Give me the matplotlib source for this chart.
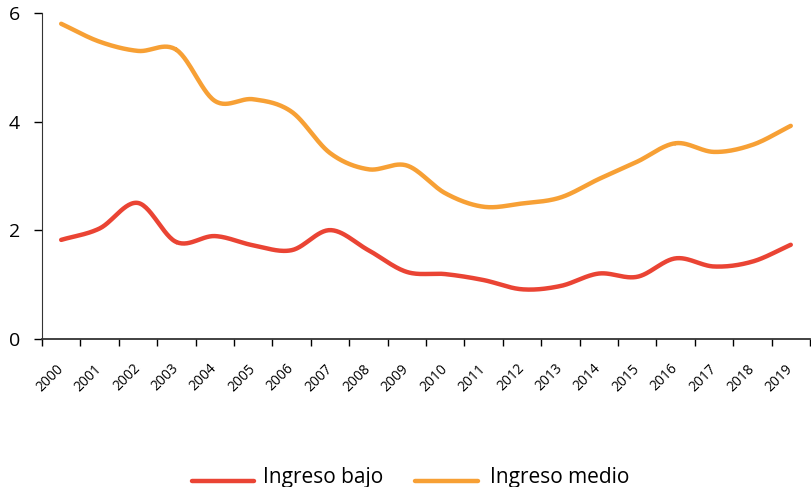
import numpy as np
import matplotlib
matplotlib.use("Agg")
import matplotlib.pyplot as plt
from matplotlib.lines import Line2D

# ------------------------------------------------------------
# Datos
# ------------------------------------------------------------

years = [str(y) for y in range(2000, 2020)]
ingreso_bajo = [1.82, 2.03, 2.50, 1.78, 1.89, 1.72, 1.63, 2.00, 1.63, 1.23,
                1.19, 1.08, 0.91, 0.97, 1.20, 1.14, 1.48, 1.33, 1.42, 1.73]
ingreso_medio = [5.80, 5.47, 5.30, 5.32, 4.38, 4.41, 4.18, 3.42, 3.12, 3.19,
                 2.68, 2.43, 2.49, 2.60, 2.94, 3.26, 3.60, 3.44, 3.57, 3.92]
series_names = ['Ingreso bajo', 'Ingreso medio']

red = '#EA4434'
orange = '#F7A035'

# ------------------------------------------------------------
# Curva suavizada (Catmull-Rom, como las lineas suavizadas de Excel)
# ------------------------------------------------------------

def smooth(x, y, n=30):
  x = np.asarray(x, float); y = np.asarray(y, float)
  px = np.concatenate(([2*x[0]-x[1]], x, [2*x[-1]-x[-2]]))
  py = np.concatenate(([2*y[0]-y[1]], y, [2*y[-1]-y[-2]]))
  xs = []; ys = []
  t = np.linspace(0, 1, n)
  for i in range(1, len(px)-2):
    for p, out in ((px, xs), (py, ys)):
      p0, p1, p2, p3 = p[i-1], p[i], p[i+1], p[i+2]
      out.append(0.5*((2*p1) + (-p0+p2)*t + (2*p0-5*p1+4*p2-p3)*t**2
                      + (-p0+3*p1-3*p2+p3)*t**3))
  return np.concatenate(xs), np.concatenate(ys)

plt.rcParams['font.family'] = ['Open Sans', 'DejaVu Sans']

W, H = 812, 487
fig = plt.figure(figsize=(W/100, H/100), dpi=100)
ax = fig.add_axes([0.0517, 0.3045, 0.9458, 0.669])

xi = np.arange(len(years))
sx, sy = smooth(xi, ingreso_bajo)
ax.plot(sx, sy, color=red, lw=3.2, solid_capstyle='round')
sx, sy = smooth(xi, ingreso_medio)
ax.plot(sx, sy, color=orange, lw=3.2, solid_capstyle='round')

ax.set_xlim(-0.5, len(years) - 0.5)
ax.set_ylim(0, 6)
ax.set_yticks([0, 2, 4, 6])
ax.tick_params(axis='y', length=6, width=1, labelsize=14, pad=10)

ax.set_xticks(xi)
ax.set_xticklabels(years, rotation=45, ha='right', va='center',
                   rotation_mode='anchor', fontsize=10)
ax.tick_params(axis='x', which='major', length=0, pad=20)
ax.set_xticks(np.arange(-0.5, len(years)), minor=True)
ax.tick_params(axis='x', which='minor', length=5, width=1)

for s in ['top', 'right']:
  ax.spines[s].set_visible(False)
ax.spines['left'].set_color('#333333')
ax.spines['bottom'].set_color('#333333')
ax.spines['bottom'].set_linewidth(1.3)

# leyenda dibujada a mano (la linea queda a la altura de la base del texto)
legend = [(192, 254, 263, red), (415, 478, 490, orange)]
for (x0, x1, xt, c), name in zip(legend, series_names):
  fig.add_artist(Line2D([x0/W, x1/W], [1-481/H, 1-481/H], color=c, lw=3.2,
                        solid_capstyle='round', transform=fig.transFigure))
  fig.text(xt/W, 1-483/H, name, fontsize=15, ha='left', va='baseline')

fig.savefig('out.png', dpi=100)
